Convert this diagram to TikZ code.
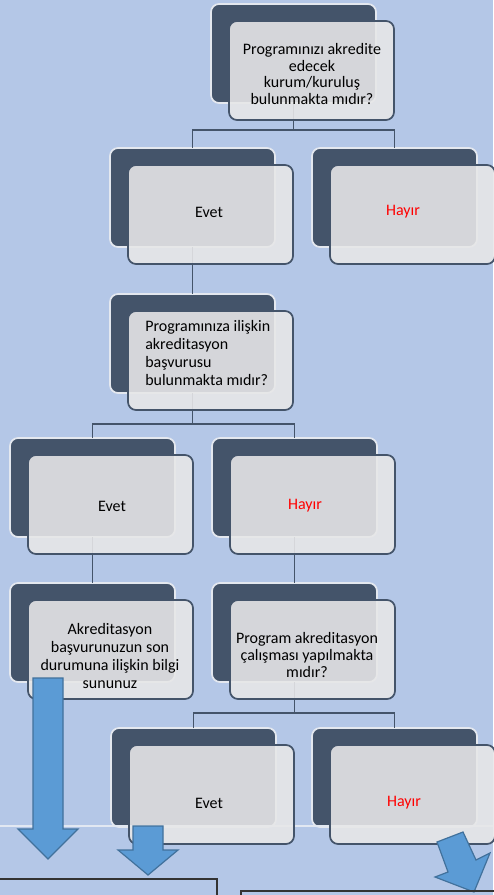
\documentclass[tikz,border=0pt]{standalone}
\usepackage{fontspec}
\setmainfont{Carlito}
\usetikzlibrary{calc}
\definecolor{bg}{HTML}{B4C7E7}
\definecolor{dark}{HTML}{44546A}
\definecolor{backedge}{HTML}{E4E8EF}
\definecolor{frontfill}{HTML}{E7E7E8}
\definecolor{arrowfill}{HTML}{5B9BD5}
\definecolor{arrowedge}{HTML}{41719C}
\definecolor{sepline}{HTML}{E2E8F2}
\definecolor{hayir}{HTML}{FF0000}
\newcommand{\backat}[3]{\node[backbox] (#1) at (#2,#3) {};}
\newcommand{\frontof}[1]{\node[frontbox] (#1f) at ($(#1.north west)+(18,17)$) {};}
\begin{document}
\begin{tikzpicture}[x=0.75pt,y=-0.75pt,
 backbox/.style={draw=backedge, line width=1.3pt, fill=dark, rounded corners=6pt,
   minimum width=123.75pt, minimum height=74.25pt, anchor=north west, inner sep=0pt, outer sep=0pt},
 frontbox/.style={draw=dark, line width=1.3pt, fill=frontfill, fill opacity=0.89, rounded corners=6pt,
   minimum width=123.75pt, minimum height=74.25pt, anchor=north west, inner sep=0pt, outer sep=0pt},
 conn/.style={draw=dark, line width=1.2pt},
 txt/.style={font=\fontsize{12}{14}\selectfont, align=center, inner sep=0pt, text=black},
 no/.style={txt, text=hayir},
 bigarrow/.style={fill=arrowfill, draw=arrowedge, line width=0.9pt, line join=miter}]
\useasboundingbox (0,0) rectangle (493,895);
\fill[bg] (0,0) rectangle (493,895);
% back boxes
\backat{n1}{211}{4}
\backat{e1}{110}{148}
\backat{h1}{312}{148}
\backat{n2}{110}{294}
\backat{e2}{10}{438}
\backat{h2}{212}{438}
\backat{n3}{10}{583}
\backat{n4}{212}{583}
\backat{e3}{111}{728}
\backat{h3}{312}{728}
% connectors
\coordinate (j1) at ($(n1.south)+(0,27)$);
\draw[conn] (n1.south) -- (j1);
\draw[conn] (e1.north) |- (j1) -| (h1.north);
\draw[conn] (e1.south) -- (n2.north);
\coordinate (j2) at ($(n2.south)+(0,31)$);
\draw[conn] (n2.south) -- (j2);
\draw[conn] (e2.north) |- (j2) -| (h2.north);
\draw[conn] (e2.south) -- (n3.north);
\draw[conn] (h2.south) -- (n4.north);
\coordinate (j3) at ($(n4.south)+(0,31)$);
\draw[conn] (n4.south) -- (j3);
\draw[conn] (e3.north) |- (j3) -| (h3.north);
% separator line
\draw[sepline, line width=1.2pt] (0,826) -- (493,826);
% front boxes
\frontof{n1}
\frontof{e1}
\frontof{h1}
\frontof{n2}
\frontof{e2}
\frontof{h2}
\frontof{n3}
\frontof{n4}
\frontof{e3}
\frontof{h3}
% texts
\node[txt, font=\fontsize{12}{12.5}\selectfont] (t1) at (312,74) {Programınızı akredite\\edecek\\kurum/kuruluş\\bulunmakta mıdır?};
\node[txt] (te1) at (209,212) {Evet};
\node[no] (th1) at (403,212) {Hayır};
\node[txt, font=\fontsize{12}{13.5}\selectfont, align=left, anchor=west] (t2) at (145,353) {Programınıza ilişkin\\akreditasyon\\başvurusu\\bulunmakta mıdır?};
\node[txt] (te2) at (112,506) {Evet};
\node[no] (th2) at (305,506) {Hayır};
\node[txt, font=\fontsize{12}{13.7}\selectfont] (t3) at (110,656) {Akreditasyon\\başvurunuzun son\\durumuna ilişkin bilgi\\sununuz};
\node[txt, font=\fontsize{12}{12.8}\selectfont] (t4) at (307,655) {Program akreditasyon\\çalışması yapılmakta\\mıdır?};
\node[txt] (te3) at (209,803) {Evet};
\node[no] (th3) at (404,803) {Hayır};
% block arrows
\draw[bigarrow] (33,678) -- (63,678) -- (63,829) -- (78,829) -- (48,859) -- (18,829) -- (33,829) -- cycle;
\draw[bigarrow] (133,826) -- (163,826) -- (163,850) -- (178,850) -- (148,875) -- (118,850) -- (133,850) -- cycle;
\draw[bigarrow] (437,842) -- (463,832) -- (476,860) -- (490,853) -- (474,892) -- (435,877) -- (448,872) -- cycle;
% bottom boxes
\draw[black!80, line width=1.1pt] (-5,879) rectangle (217,905);
\draw[black!80, line width=1.1pt] (241,891) rectangle (505,905);
\end{tikzpicture}
\end{document}
